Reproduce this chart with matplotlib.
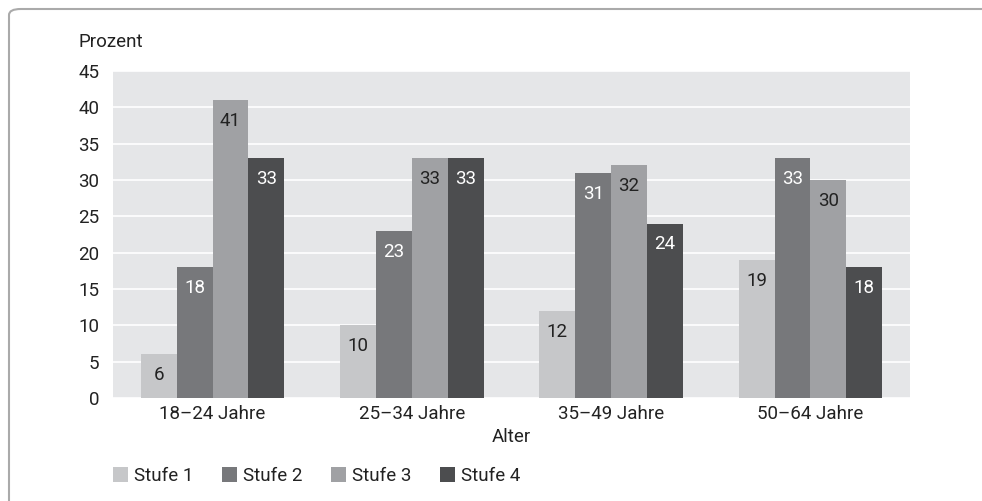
import matplotlib
matplotlib.use("Agg")
import matplotlib.pyplot as plt
import numpy as np
from matplotlib.patches import FancyBboxPatch

categories = ["18–24 Jahre", "25–34 Jahre", "35–49 Jahre", "50–64 Jahre"]
series_names = ["Stufe 1", "Stufe 2", "Stufe 3", "Stufe 4"]
stufe1 = [6, 10, 12, 19]
stufe2 = [18, 23, 31, 33]
stufe3 = [41, 33, 32, 30]
stufe4 = [33, 33, 24, 18]
yticks = [0, 5, 10, 15, 20, 25, 30, 35, 40, 45]

colors = ["#c6c7c9", "#77787b", "#a0a1a4", "#4c4d4f"]
label_colors = ["#222222", "white", "#222222", "white"]

plt.rcParams['font.family'] = ['Roboto', 'DejaVu Sans']
FS = 13.5

W, H = 982, 501
fig = plt.figure(figsize=(W/100, H/100), dpi=100)

# frame
frame = FancyBboxPatch((9/W, -20/H), (W+20-9)/W, (H+20-9)/H,
                       boxstyle="round,pad=0,rounding_size=0.012",
                       transform=fig.transFigure, fill=False,
                       edgecolor="#aaaaaa", linewidth=1.5)
fig.patches.append(frame)

ax_l, ax_r, ax_t, ax_b = 113, 910, 71, 398
ax = fig.add_axes([ax_l/W, 1-ax_b/H, (ax_r-ax_l)/W, (ax_b-ax_t)/H])
ax.set_facecolor("#e5e6e8")
for s in ax.spines.values():
    s.set_visible(False)
ax.set_ylim(0, 45)
ax.set_xlim(-0.5, 3.5)
ax.set_yticks(yticks)
ax.yaxis.grid(True, color="white", linewidth=1.2)
ax.set_axisbelow(True)
ax.tick_params(axis="both", length=0, labelsize=FS, colors="#222222")
ax.tick_params(axis="y", pad=10)
ax.tick_params(axis="x", pad=5)

x = np.arange(len(categories))
bw = 0.18
data = [stufe1, stufe2, stufe3, stufe4]
for i, (vals, c, lc, name) in enumerate(zip(data, colors, label_colors, series_names)):
    xs = x + (i - 1.5) * bw
    bars = ax.bar(xs, vals, width=bw, color=c, label=name, zorder=2)
    for xi, v in zip(xs, vals):
        ax.annotate(str(v), (xi, v), xytext=(0, -15), textcoords="offset points",
                    ha="center", va="center", fontsize=FS, color=lc, zorder=3)

ax.set_xticks(x)
ax.set_xticklabels(categories)

fig.text(79/W, 1-42/H, "Prozent", fontsize=FS, va="center", ha="left", color="#222222")
fig.text(511/W, 1-437/H, "Alter", fontsize=FS, va="center", ha="center", color="#222222")

handles, labels = ax.get_legend_handles_labels()
leg = fig.legend(handles, labels, loc="center left", bbox_to_anchor=(111/W, 1-476/H),
                 ncol=4, frameon=False, fontsize=FS, handlelength=0.8, handleheight=0.8,
                 handletextpad=0.3, columnspacing=1.55, borderaxespad=0, borderpad=0.1)
for t in leg.get_texts():
    t.set_color("#222222")

fig.savefig("out.png", dpi=100)
